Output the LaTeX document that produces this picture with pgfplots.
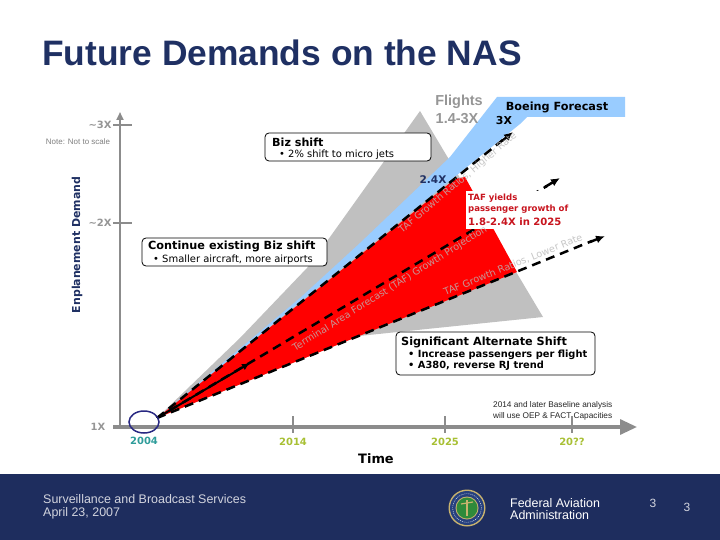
\documentclass[border=0pt]{standalone}
\usepackage{pgfplots}
\pgfplotsset{compat=1.18}
\usepackage{fontspec}
\setmainfont{DejaVu Sans}
\newfontfamily\arial{Liberation Sans}
\usetikzlibrary{arrows.meta}
\definecolor{navy}{RGB}{31,48,99}
\definecolor{footer}{RGB}{30,45,94}
\definecolor{lgray}{RGB}{192,192,192}
\definecolor{lblue}{RGB}{153,204,255}
\definecolor{axgray}{RGB}{140,140,140}
\definecolor{teal2}{RGB}{46,156,154}
\definecolor{ygreen}{RGB}{168,192,52}
\definecolor{tafred}{RGB}{200,20,30}
\definecolor{labgray}{RGB}{150,150,150}
\definecolor{ellblue}{RGB}{40,40,130}
\definecolor{linetxt}{RGB}{185,185,185}
\definecolor{foottxt}{RGB}{210,212,222}
\definecolor{sealgold}{RGB}{201,179,110}
\definecolor{sealblue}{RGB}{38,64,126}
\definecolor{sealgreen}{RGB}{47,138,58}
\newcommand{\fs}[1]{\fontsize{#1}{#1}\selectfont}
\begin{document}
\begin{tikzpicture}
\begin{axis}[scale only axis, width=720bp, height=540bp,
  xmin=0, xmax=720, ymin=0, ymax=540, y dir=reverse,
  hide axis, clip=false, no markers]
% background and footer band
\addplot[fill=white, draw=none] coordinates {(0,0)(720,0)(720,540)(0,540)};
\addplot[fill=footer, draw=none] coordinates {(0,474)(720,474)(720,540)(0,540)};
% gray wedge (flights 1.4-3X)
\addplot[fill=lgray, draw=none] coordinates {(157,418)(240,338)(307,268)(330,237)(420,111)(543,317)(359,336)};
% blue band (Boeing forecast)
\addplot[fill=lblue, draw=none] coordinates {(157,418)(300,298)(360,243)(450,157)(497,97)(625,97)(625,117)(527,117)(520,124)};
% red wedge (TAF)
\addplot[fill=red, draw=none] coordinates {(157,418)(455,179)(465,177)(517,272)};
% dashed growth lines
\addplot[black, line width=2.5bp, dash pattern=on 9bp off 6bp] coordinates {(157,418)(504,139)};
\addplot[black, line width=2.5bp, -{Latex[length=9bp,width=8bp]}] coordinates {(502,141)(513,132)};
\addplot[black, line width=2.5bp, dash pattern=on 9bp off 6bp] coordinates {(157,418)(547,186)};
\addplot[black, line width=2.5bp, -{Latex[length=9bp,width=8bp]}] coordinates {(545,187)(560,178)};
\addplot[black, line width=2.5bp, dash pattern=on 9bp off 6bp] coordinates {(157,418)(592,241)};
\addplot[black, line width=2.5bp, -{Latex[length=9bp,width=8bp]}] coordinates {(590,242)(605,236)};
% solid arrow
\addplot[black, line width=2bp, -{Latex[length=8bp,width=7bp]}] coordinates {(157,418)(250,363)};
% axes
\addplot[axgray, line width=2.7bp, -{Triangle[length=8bp,width=7bp]}] coordinates {(120,427)(120,112)};
\addplot[axgray, line width=2.5bp] coordinates {(113,125)(132,125)};
\addplot[axgray, line width=2.5bp] coordinates {(113,223)(132,223)};
\addplot[axgray, line width=3.2bp, -{Triangle[length=17bp,width=15bp]}] coordinates {(113,427)(637,427)};
\addplot[axgray, line width=2.5bp] coordinates {(293,416)(293,433)};
\addplot[axgray, line width=2.5bp] coordinates {(445,416)(445,433)};
\addplot[axgray, line width=2.5bp] coordinates {(572,416)(572,433)};
% origin ellipse
\draw[ellblue, line width=1.5bp] (axis cs:144,422) ellipse [x radius=15bp, y radius=11bp];
% boxes
\draw[rounded corners=4bp, line width=0.8bp, fill=white] (axis cs:265,133) rectangle (axis cs:431,161);
\draw[rounded corners=4bp, line width=0.8bp, fill=white] (axis cs:142,238) rectangle (axis cs:327,266);
\draw[rounded corners=4bp, line width=0.8bp, fill=white] (axis cs:396,332) rectangle (axis cs:595,375);
\fill[white] (axis cs:466,191) rectangle (axis cs:568,229);
% title
\node[anchor=base west, inner sep=0, text=navy, font=\arial\bfseries\fs{35.5}] at (axis cs:42,66) {Future Demands on the NAS};
% y label and y ticks
\node[rotate=90, inner sep=0, text=navy, font=\bfseries\fs{11}] at (axis cs:77,245) {Enplanement Demand};
\node[inner sep=0, text=labgray, font=\bfseries\fs{10}] at (axis cs:100,125) {\textasciitilde3X};
\node[inner sep=0, text=labgray, font=\bfseries\fs{10}] at (axis cs:100,223) {\textasciitilde2X};
\node[inner sep=0, text=labgray, font=\bfseries\fs{10}] at (axis cs:98,427) {1X};
\node[inner sep=0, text=gray, font=\arial\fs{8}] at (axis cs:78,142) {Note: Not to scale};
% x tick labels
\node[inner sep=0, text=teal2, font=\bfseries\fs{10}] at (axis cs:144,441) {2004};
\node[inner sep=0, text=ygreen, font=\bfseries\fs{10}] at (axis cs:293,442) {2014};
\node[inner sep=0, text=ygreen, font=\bfseries\fs{10}] at (axis cs:445,442) {2025};
\node[inner sep=0, text=ygreen, font=\bfseries\fs{10}] at (axis cs:572,442) {20??};
\node[inner sep=0, font=\bfseries\fs{13}] at (axis cs:376,459) {Time};
% box texts
\node[anchor=west, inner sep=0, font=\bfseries\fs{11.2}] at (axis cs:272,142) {Biz shift};
\node[anchor=west, inner sep=0, font=\fs{10}] at (axis cs:279,155) {\textbullet\ 2\% shift to micro jets};
\node[anchor=west, inner sep=0, font=\bfseries\fs{11.3}] at (axis cs:148,246.5) {Continue existing Biz shift};
\node[anchor=west, inner sep=0, font=\fs{10}] at (axis cs:153,259.5) {\textbullet\ Smaller aircraft, more airports};
\node[anchor=west, inner sep=0, font=\bfseries\fs{11.3}] at (axis cs:401,342) {Significant Alternate Shift};
\node[anchor=west, inner sep=0, font=\bfseries\fs{9.9}] at (axis cs:408,354.5) {\textbullet\ Increase passengers per flight};
\node[anchor=west, inner sep=0, font=\bfseries\fs{9.9}] at (axis cs:408,366) {\textbullet\ A380, reverse RJ trend};
% TAF yields
\node[anchor=west, inner sep=0, text=tafred, font=\bfseries\fs{8.6}] at (axis cs:468,198) {TAF yields};
\node[anchor=west, inner sep=0, text=tafred, font=\bfseries\fs{8.6}] at (axis cs:468,209.5) {passenger growth of};
\node[anchor=west, inner sep=0, text=tafred, font=\bfseries\fs{10.1}] at (axis cs:468,222) {1.8-2.4X in 2025};
% top labels
\node[inner sep=0, text=labgray, font=\arial\bfseries\fs{14.5}] at (axis cs:459,102) {Flights};
\node[inner sep=0, text=labgray, font=\arial\bfseries\fs{14.5}] at (axis cs:457,119) {1.4-3X};
\node[inner sep=0, font=\bfseries\fs{11.3}] at (axis cs:557,107) {Boeing Forecast};
\node[inner sep=0, font=\bfseries\fs{11}] at (axis cs:504,121) {3X};
\node[inner sep=0, text=navy, font=\bfseries\fs{10.6}] at (axis cs:433,180) {2.4X};
% line texts
\node[rotate=40, inner sep=0, text=linetxt, opacity=0.8, font=\fs{9.6}] at (axis cs:458,183) {TAF Growth Ratios, Higher Rate};
\node[rotate=32, inner sep=0, text=linetxt, opacity=0.8, font=\fs{9.7}] at (axis cs:390,289) {Terminal Area Forecast (TAF) Growth Projection};
\node[rotate=22, inner sep=0, text=linetxt, opacity=0.8, font=\fs{9.7}] at (axis cs:513,265) {TAF Growth Ratios, Lower Rate};
% baseline note
\node[anchor=west, inner sep=0, text=black!85, font=\arial\fs{8.3}] at (axis cs:493,405) {2014 and later Baseline analysis};
\node[anchor=west, inner sep=0, text=black!85, font=\arial\fs{8.3}] at (axis cs:493,416) {will use OEP \& FACT Capacities};
% footer
\node[anchor=west, inner sep=0, text=foottxt, font=\arial\fs{12.5}] at (axis cs:43,499) {Surveillance and Broadcast Services};
\node[anchor=west, inner sep=0, text=foottxt, font=\arial\fs{12.5}] at (axis cs:43,513) {April 23, 2007};
\node[anchor=west, inner sep=0, text=white, font=\arial\fs{12.5}] at (axis cs:510,503) {Federal Aviation};
\node[anchor=west, inner sep=0, text=white, font=\arial\fs{12.5}] at (axis cs:510,515) {Administration};
\node[inner sep=0, text=foottxt, font=\arial\fs{12}] at (axis cs:653,503) {3};
\node[inner sep=0, text=foottxt, font=\arial\fs{12}] at (axis cs:687,507) {3};
% seal
\fill[sealgold] (axis cs:467,508) circle [radius=18.5bp];
\fill[sealblue] (axis cs:467,508) circle [radius=17bp];
\fill[sealgold] (axis cs:467,508) circle [radius=11.5bp];
\fill[sealgreen] (axis cs:467,508) circle [radius=10.5bp];
\draw[sealgold, line width=1.5bp] (axis cs:467,516) -- (axis cs:467,500);
\draw[sealgold, line width=1.2bp] (axis cs:461,504) -- (axis cs:473,502);
\draw[white, line width=0.4bp, dash pattern=on 1bp off 1bp] (axis cs:467,508) circle [radius=14.3bp];
\end{axis}
\end{tikzpicture}
\end{document}
